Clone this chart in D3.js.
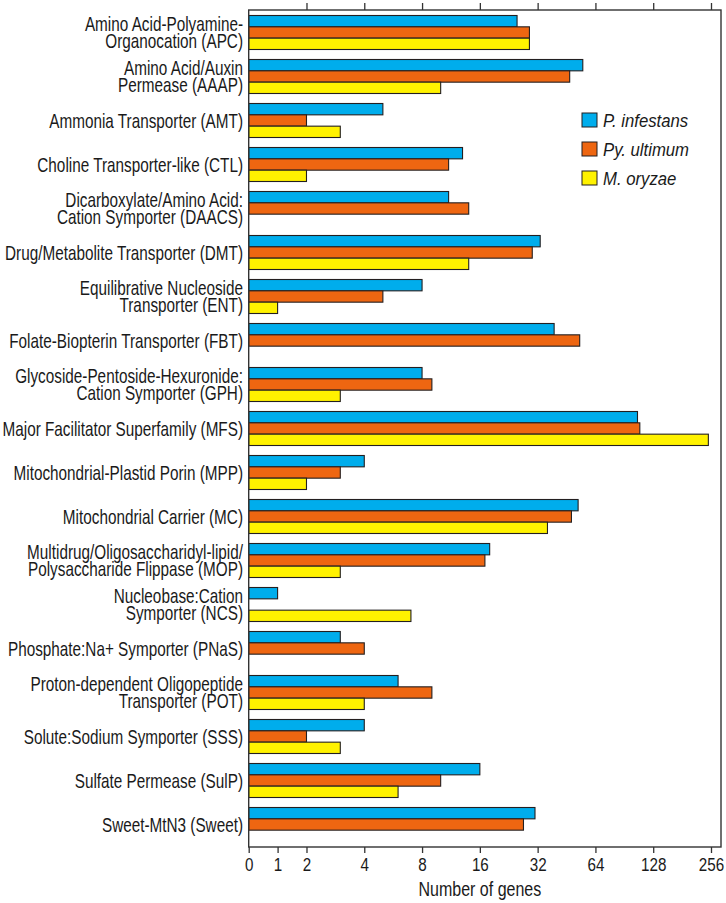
<!DOCTYPE html>
<html>
<head>
<meta charset="utf-8">
<script src="https://cdn.jsdelivr.net/npm/d3@7"></script>
<style>
  html, body { margin: 0; padding: 0; background: #fff; }
  svg { display: block; }
  text { font-family: "Liberation Sans", Arial, Helvetica, sans-serif; fill: #1a1a1a; }
</style>
</head>
<body>
<div id="chart"></div>
<script>
// ---- data ----
const categories = [
  "Amino Acid-Polyamine-\nOrganocation (APC)",
  "Amino Acid/Auxin\nPermease (AAAP)",
  "Ammonia Transporter (AMT)",
  "Choline Transporter-like (CTL)",
  "Dicarboxylate/Amino Acid:\nCation Symporter (DAACS)",
  "Drug/Metabolite Transporter (DMT)",
  "Equilibrative Nucleoside\nTransporter (ENT)",
  "Folate-Biopterin Transporter (FBT)",
  "Glycoside-Pentoside-Hexuronide:\nCation Symporter (GPH)",
  "Major Facilitator Superfamily (MFS)",
  "Mitochondrial-Plastid Porin (MPP)",
  "Mitochondrial Carrier (MC)",
  "Multidrug/Oligosaccharidyl-lipid/\nPolysaccharide Flippase (MOP)",
  "Nucleobase:Cation\nSymporter (NCS)",
  "Phosphate:Na+ Symporter (PNaS)",
  "Proton-dependent Oligopeptide\nTransporter (POT)",
  "Solute:Sodium Symporter (SSS)",
  "Sulfate Permease (SulP)",
  "Sweet-MtN3 (Sweet)"
];
const seriesNames = ["P. infestans", "Py. ultimum", "M. oryzae"];
const pInfestans = [25, 55, 5, 13, 11, 33, 8, 39, 8, 106, 4, 52, 18, 1, 3, 6, 4, 16, 31];
const pyUltimum  = [29, 47, 2, 11, 14, 30, 5, 53, 9, 109, 3, 48, 17, 0, 4, 9, 2, 10, 27];
const mOryzae    = [29, 10, 3, 2, 0, 14, 1, 0, 3, 248, 2, 36, 3, 7, 0, 4, 3, 6, 0];
const tickValues = [0, 1, 2, 4, 8, 16, 32, 64, 128, 256];
const tickLabels = ["0", "1", "2", "4", "8", "16", "32", "64", "128", "256"];
const xTitle = "Number of genes";
const colors = ["#00adec", "#ee6611", "#fff200"];

// ---- layout ----
const W = 726, H = 903;
const mLeft = 248.7, mRight = 721, mTop = 10, mBottom = 847, xEnd = 711;

const svg = d3.select("#chart").append("svg").attr("width", W).attr("height", H);

// axis transform: linear between 0 and 2, log2 beyond
const tr = v => v <= 2 ? v / 2 : Math.log2(v);
const xs = d3.scaleLinear().domain([0, 8]).range([mLeft, xEnd]);
const x = v => xs(tr(v));

const y = d3.scaleBand().domain(categories).range([mTop, mBottom])
  .paddingInner(10 / 44).paddingOuter(0.125);
const ySub = d3.scaleBand().domain(seriesNames).range([0, y.bandwidth()]);

const series = [pInfestans, pyUltimum, mOryzae];

// bars
series.forEach((vals, si) => {
  svg.append("g").selectAll("rect")
    .data(vals.map((v, i) => ({ v, c: categories[i] })).filter(d => d.v > 0))
    .join("rect")
    .attr("x", mLeft)
    .attr("y", d => y(d.c) + ySub(seriesNames[si]))
    .attr("width", d => x(d.v) - mLeft)
    .attr("height", ySub.bandwidth())
    .attr("fill", colors[si])
    .attr("stroke", "#231f20")
    .attr("stroke-width", 1.1);
});

// frame
svg.append("rect")
  .attr("x", mLeft).attr("y", mTop)
  .attr("width", mRight - mLeft).attr("height", mBottom - mTop)
  .attr("fill", "none").attr("stroke", "#333").attr("stroke-width", 1.4);

// bottom axis
const gx = svg.append("g").attr("transform", `translate(0,${mBottom})`)
  .call(d3.axisBottom(xs).tickValues(tickValues.map(tr)).tickSize(6)
    .tickFormat((d, i) => tickLabels[i]));
gx.select(".domain").remove();
gx.selectAll(".tick line").attr("stroke", "#333").attr("stroke-width", 1.3);
gx.selectAll(".tick text")
  .attr("y", 24.5).attr("dy", null)
  .attr("transform", "scale(0.8,1)")
  .style("font-size", "19px").attr("fill", "#1a1a1a")
  .style("font-family", "'Liberation Sans', Arial, sans-serif");

// top axis ticks (no labels)
const gt = svg.append("g").attr("transform", `translate(0,${mTop})`)
  .call(d3.axisTop(xs).tickValues(tickValues.filter(v => v >= 2).map(tr)).tickSize(7).tickFormat(""));
gt.select(".domain").remove();
gt.selectAll(".tick line").attr("stroke", "#333").attr("stroke-width", 1.3);

// x title
svg.append("g").attr("transform", `translate(${(mLeft + xEnd) / 2},896)`)
  .append("text").attr("text-anchor", "middle")
  .attr("transform", "scale(0.8,1)")
  .style("font-size", "20px").text(xTitle);

// category labels
categories.forEach(c => {
  const lines = c.split("\n");
  const cy = y(c) + y.bandwidth() / 2;
  const lh = 17;
  const g = svg.append("g")
    .attr("transform", `translate(243,${cy}) scale(0.765,1)`);
  lines.forEach((ln, k) => {
    const base = 7.2 - (lines.length - 1) * lh / 2 + k * lh;
    g.append("text").attr("text-anchor", "end").attr("y", base)
      .style("font-size", "20px").text(ln);
  });
});

// legend
const lg = svg.append("g").attr("transform", "translate(582,113)");
seriesNames.forEach((n, i) => {
  const gi = lg.append("g").attr("transform", `translate(0,${i * 29})`);
  gi.append("rect").attr("x", 0).attr("y", 0).attr("width", 15).attr("height", 14)
    .attr("fill", colors[i]).attr("stroke", "#231f20").attr("stroke-width", 1);
  gi.append("g").attr("transform", "translate(21,14) scale(0.88,1)")
    .append("text").style("font-size", "19px").style("font-style", "italic").text(n);
});
</script>
</body>
</html>
